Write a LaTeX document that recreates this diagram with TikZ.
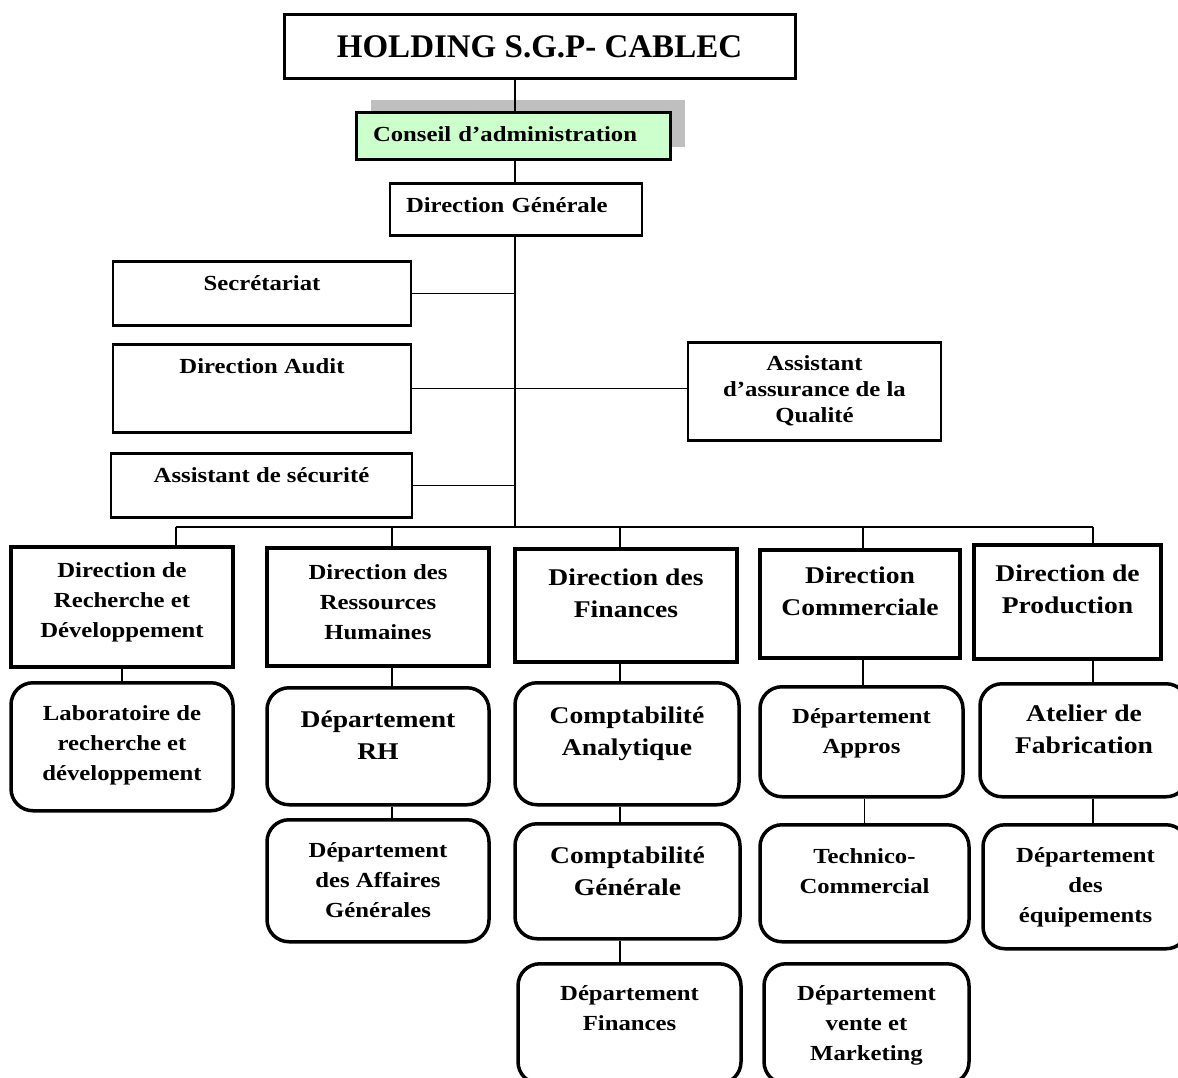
\documentclass[tikz,border=0pt]{standalone}
\usepackage{fontspec}
\setmainfont{Liberation Serif}[FakeStretch=1.15]
\newfontfamily\titlefont{Liberation Serif}
\usetikzlibrary{positioning,shadows}
\definecolor{cagreen}{RGB}{204,255,204}
\definecolor{shadowgray}{RGB}{191,191,191}
\tikzset{
  box/.style={draw, line width=2.5pt, inner sep=0pt, align=center, anchor=north,
    font=\bfseries\fontsize{21.5}{30}\selectfont},
  dirbox/.style={box, line width=3.5pt},
  subbox/.style={dirbox, rounded corners=22pt},
  bigtext/.style={font=\bfseries\fontsize{24}{32}\selectfont},
  link/.style={line width=1.3pt}
}

\begin{document}
\begin{tikzpicture}[x=1pt, y=-1pt]
\useasboundingbox (0,0) rectangle (1178,1077);

% head of the chart
\node[box, line width=3pt, minimum width=511pt, text height=43pt, text depth=21pt,
  font=\titlefont\bfseries\fontsize{33}{33}\selectfont] (holding) at (539.5,13) {HOLDING S.G.P- CABLEC};
\node[box, line width=3pt, fill=cagreen, align=left, text width=280pt, inner xsep=17pt,
  text height=29pt, text depth=18pt,
  drop shadow={shadow xshift=15pt, shadow yshift=13pt, fill=shadowgray, opacity=1}] (conseil) at (513,111) {Conseil d’administration};
\node[box, align=left, text width=220pt, inner xsep=16pt, text height=29pt, text depth=23pt] (dg) at (516,182) {Direction Générale};

% staff boxes
\node[box, minimum width=298pt, text height=29pt, text depth=35pt] (sec) at (262,260) {Secrétariat};
\node[box, minimum width=298pt, text height=29pt, text depth=59pt] (audit) at (262,343) {Direction Audit};
\node[box, minimum width=253pt, text height=80pt, text depth=18pt,
  font=\bfseries\fontsize{21.5}{26}\selectfont] (qual) at (814.5,341) {Assistant\\d’assurance de la\\Qualité};
\node[box, minimum width=301pt, text height=29pt, text depth=35pt] (secu) at (261.5,452) {Assistant de sécurité};

% directions
\node[dirbox, minimum width=222pt, text height=91pt, text depth=29pt] (rd) at (122,545) {Direction de\\Recherche et\\Développement};
\node[dirbox, minimum width=222pt, text height=92pt, text depth=26pt] (rh) at (378,546) {Direction des\\Ressources\\Humaines};
\node[dirbox, bigtext, minimum width=222pt, text height=69pt, text depth=44pt] (fin) at (626,547) {Direction des\\Finances};
\node[dirbox, bigtext, minimum width=200pt, text height=66pt, text depth=42pt] (com) at (860,548) {Direction\\Commerciale};
\node[dirbox, bigtext, minimum width=187pt, text height=69pt, text depth=45pt] (prod) at (1067.5,543) {Direction de\\Production};

% departments
\node[subbox, minimum width=222pt, text height=98pt, text depth=30pt] (lab) at (122,681) {Laboratoire de\\recherche et\\développement};
\node[subbox, bigtext, minimum width=222pt, text height=72pt, text depth=45pt] (drh) at (378,686) {Département\\RH};
\node[subbox, minimum width=222pt, text height=98pt, text depth=24pt] (aff) at (378,818) {Département\\des Affaires\\Générales};
\node[subbox, bigtext, minimum width=224pt, text height=73pt, text depth=49pt] (ca) at (627,681) {Comptabilité\\Analytique};
\node[subbox, bigtext, minimum width=225pt, text height=72pt, text depth=43pt] (cg) at (627.5,822) {Comptabilité\\Générale};
\node[subbox, minimum width=223pt, text height=67pt, text depth=53pt] (df) at (629.5,962) {Département\\Finances};
\node[subbox, minimum width=203pt, text height=67pt, text depth=43pt] (app) at (861.5,685) {Département\\Appros};
\node[subbox, minimum width=209pt, text height=69pt, text depth=48pt] (tc) at (864.5,823) {Technico-\\Commercial};
\node[subbox, minimum width=205pt, text height=97pt, text depth=23pt] (dv) at (866.5,962) {Département\\vente et\\Marketing};
\node[subbox, bigtext, minimum width=208pt, text height=70pt, text depth=43pt] (at) at (1084,682) {Atelier de\\Fabrication};
\node[subbox, minimum width=205pt, text height=98pt, text depth=26pt] (eq) at (1085.5,823) {Département\\des\\équipements};

% spine and bus
\coordinate (bus) at (515,527);
\coordinate (k1) at (176,527);
\coordinate (k2) at (392,527);
\coordinate (k3) at (620,527);
\coordinate (k4) at (863,527);
\coordinate (k5) at (1093,527);

\draw[link] (holding.south -| bus) -- (conseil.north -| bus);
\draw[link] (conseil.south -| bus) -- (dg.north -| bus);
\draw[link] (dg.south -| bus) -- (bus);
\draw[link] (sec.east) -- (sec.east -| bus);
\draw[link] (audit.east) -- (audit.east -| qual.west);
\draw[link] (secu.east) -- (secu.east -| bus);
\draw[link] (k1) -- (k5);
\foreach \k/\d in {k1/rd,k2/rh,k3/fin,k4/com,k5/prod}
  \draw[link] (\k) -- (\k |- \d.north);

% columns
\draw[link] (rd.south) -- (lab.north);
\draw[link] (k2 |- rh.south) -- (k2 |- drh.north);
\draw[link] (k2 |- drh.south) -- (k2 |- aff.north);
\draw[link] (k3 |- fin.south) -- (k3 |- ca.north);
\draw[link] (k3 |- ca.south) -- (k3 |- cg.north);
\draw[link] (k3 |- cg.south) -- (k3 |- df.north);
\draw[link] (k4 |- com.south) -- (k4 |- app.north);
\draw[link] (tc.north |- app.south) -- (tc.north);
\draw[link] (k5 |- prod.south) -- (k5 |- at.north);
\draw[link] (k5 |- at.south) -- (k5 |- eq.north);
\end{tikzpicture}
\end{document}
